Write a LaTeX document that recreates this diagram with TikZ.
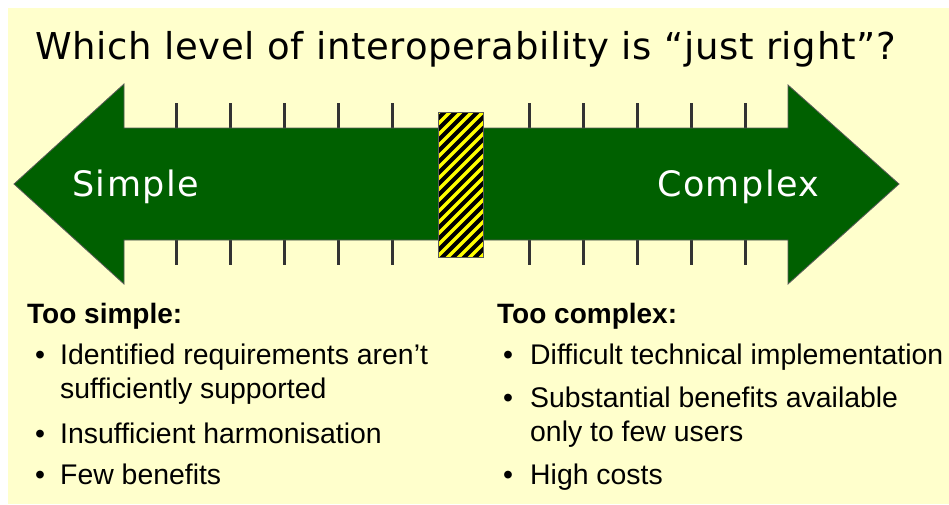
\documentclass[tikz,border=0pt]{standalone}
\usepackage{fontspec}
\setmainfont{Liberation Sans}
\newfontfamily\vfonttitle{DejaVu Sans}[LetterSpace=1.8]
\newfontfamily\vfontlabel{DejaVu Sans}[LetterSpace=4.2]
\definecolor{bgyellow}{HTML}{FFFFCC}
\definecolor{arrowgreen}{RGB}{0,96,0}
\definecolor{tickgray}{HTML}{333333}
\definecolor{edgegray}{HTML}{5A5A5A}
\definecolor{stripeyellow}{HTML}{FFFF00}
\begin{document}
\begin{tikzpicture}[x=1pt,y=-1pt,
  titletext/.style={font=\vfonttitle\fontsize{37}{40}\selectfont, anchor=base west, inner sep=0pt},
  arrowlabel/.style={font=\vfontlabel\fontsize{35}{40}\selectfont, text=white, anchor=base west, inner sep=0pt},
  heading/.style={font=\bfseries\fontsize{28}{32}\selectfont, anchor=base west, inner sep=0pt},
  itemtext/.style={font=\fontsize{28.4}{32}\selectfont, anchor=base west, inner sep=0pt},
  bulletdot/.style={font=\fontsize{28.4}{32}\selectfont, anchor=base, inner sep=0pt},
  tickmark/.style={draw=tickgray, line width=3pt},
]
\useasboundingbox (0,0) rectangle (949,504);
\fill[bgyellow] (8,8) rectangle (949,504);
\node[titletext] (title) at (35,59.5) {Which level of interoperability is “just right”?};
% ticks
\foreach \x in {176.7,230.7,284.7,338.7,392.7,529,583,637,691,745} {
  \draw[tickmark] (\x,103) -- (\x,130);
  \draw[tickmark] (\x,238) -- (\x,265);
}
% double arrow
\filldraw[fill=arrowgreen, draw=edgegray, line width=0.8pt]
  (14,184) -- (124,84) -- (124,128) -- (788,128) -- (788,85) -- (899,184)
  -- (788,284) -- (788,240) -- (124,240) -- (124,284) -- cycle;
% striped block
\begin{scope}
  \clip (438,112) rectangle (483,257);
  \fill[black] (438,112) rectangle (483,257);
  \foreach \c in {540,551,...,760} {
    \draw[stripeyellow, line width=3.4pt] (\c-270,270) -- (\c-100,100);
  }
\end{scope}
\draw[edgegray, line width=1pt] (438,112) rectangle (483,257);
% arrow labels
\node[arrowlabel] (simple) at (72,196) {Simple};
\node[arrowlabel] (complex) at (657,196) {Complex};
% left column
\node[heading] (lhead) at (27,323) {Too simple:};
\node[bulletdot] (lb1) at (40,364) {•};
\node[itemtext] (l1a) at (60,364) {Identified requirements aren’t};
\node[itemtext] (l1b) at (60,398) {sufficiently supported};
\node[bulletdot] (lb2) at (40,443) {•};
\node[itemtext] (l2) at (60,443) {Insufficient harmonisation};
\node[bulletdot] (lb3) at (40,484) {•};
\node[itemtext] (l3) at (60,484) {Few benefits};
% right column
\node[heading] (rhead) at (497,323) {Too complex:};
\node[bulletdot] (rb1) at (508,364) {•};
\node[itemtext] (r1) at (530,364) {Difficult technical implementation};
\node[bulletdot] (rb2) at (508,407) {•};
\node[itemtext] (r2a) at (530,407) {Substantial benefits available};
\node[itemtext] (r2b) at (530,441) {only to few users};
\node[bulletdot] (rb3) at (508,484) {•};
\node[itemtext] (r3) at (530,484) {High costs};
\end{tikzpicture}
\end{document}
